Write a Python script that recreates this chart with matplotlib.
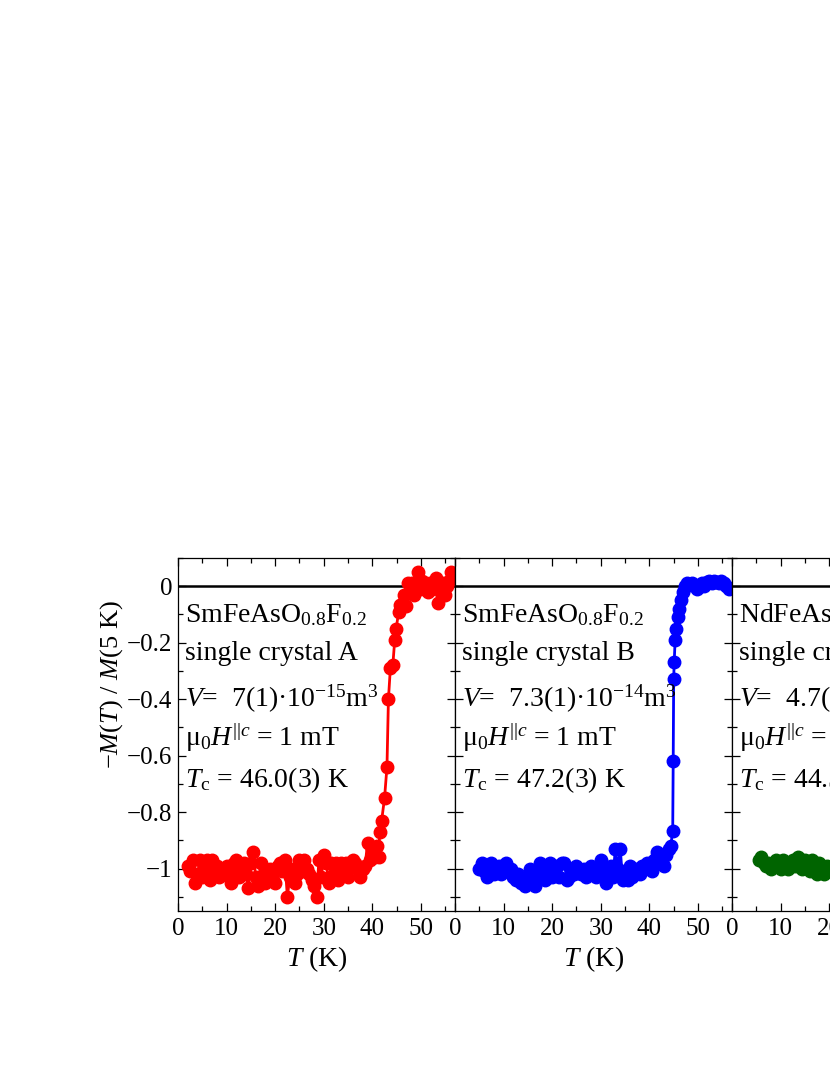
import matplotlib
matplotlib.use("Agg")
import matplotlib.pyplot as plt
from matplotlib.ticker import MultipleLocator, FixedLocator, FixedFormatter

plt.rcParams['font.family'] = ['Liberation Serif', 'DejaVu Serif']
plt.rcParams['mathtext.fontset'] = 'custom'
plt.rcParams['mathtext.rm'] = 'Liberation Serif'
plt.rcParams['mathtext.it'] = 'Liberation Serif:italic'
plt.rcParams['axes.unicode_minus'] = True

# --- data -------------------------------------------------------------
# crystal A (red)
T_a = [2.0, 2.5, 3.0, 3.5, 4.0, 4.5, 5.0, 5.5, 6.0, 6.5, 7.0, 7.5, 8.0, 8.5,
       9.0, 9.5, 10.0, 10.5, 11.0, 11.5, 12.0, 12.5, 13.0, 13.5, 14.0, 14.5,
       15.0, 15.5, 16.0, 16.5, 17.0, 17.5, 18.0, 18.5, 19.0, 19.5, 20.0, 20.5,
       21.0, 21.5, 22.0, 22.5, 23.0, 23.5, 24.0, 24.5, 25.0, 25.5, 26.0, 26.5,
       27.0, 27.5, 28.0, 28.5, 29.0, 29.5, 30.0, 30.5, 31.0, 31.5, 32.0, 32.5,
       33.0, 33.5, 34.0, 34.5, 35.0, 35.5, 36.0, 36.5, 37.0, 37.5, 38.0, 38.5,
       39.0, 39.5, 40.0, 40.5, 41.0, 41.3, 41.5, 41.9, 42.5, 43.0, 43.3, 43.7,
       44.2, 44.6, 44.9, 45.4, 45.7, 46.2, 46.6, 47.0, 47.4, 47.8, 48.2, 48.6,
       49.0, 49.4, 49.8, 50.2, 50.6, 51.0, 51.4, 51.8, 52.2, 52.6, 53.0, 53.4,
       53.8, 54.2, 54.6, 55.0, 55.4, 55.8, 56.2]
M_a = [-0.99, -1.01, -0.97, -1.05, -1.02, -0.97, -1.03, -0.99, -0.97, -1.04,
       -0.97, -1.01, -0.99, -1.03, -1.00, -1.02, -0.99, -1.01, -1.05, -0.98,
       -0.97, -1.03, -1.00, -0.98, -1.02, -1.07, -0.98, -0.94, -1.03, -1.06,
       -0.98, -1.03, -1.05, -1.02, -1.00, -1.04, -1.05, -0.99, -0.98, -1.01,
       -0.97, -1.10, -1.03, -1.00, -1.05, -1.02, -0.97, -1.01, -0.97, -1.00,
       -1.02, -1.04, -1.06, -1.10, -0.97, -1.03, -0.95, -0.98, -1.05, -0.98,
       -1.03, -0.98, -1.04, -0.98, -1.01, -0.98, -1.03, -0.99, -0.97, -0.98,
       -1.00, -1.03, -1.00, -0.99, -0.91, -0.97, -0.93, -0.96, -0.92, -0.96,
       -0.87, -0.83, -0.75, -0.64, -0.40, -0.29, -0.28, -0.19, -0.15, -0.09,
       -0.067, -0.06, -0.03, -0.07, 0.01, -0.02, 0.01, -0.03, 0.0, 0.05,
       -0.01, 0.02, -0.01, 0.01, -0.02, 0.01, -0.01, 0.0, 0.03, -0.06,
       0.0, -0.02, 0.01, -0.03, 0.0, 0.02, 0.05]

# crystal B (blue)
T_b = [5.0, 5.5, 6.0, 6.5, 7.0, 7.5, 8.0, 8.5, 9.0, 9.5, 10.0, 10.5, 11.0,
       11.5, 12.0, 12.5, 13.0, 13.5, 14.0, 14.5, 15.0, 15.5, 16.0, 16.5, 17.0,
       17.5, 18.0, 18.5, 19.0, 19.5, 20.0, 20.5, 21.0, 21.5, 22.0, 22.5, 23.0,
       23.5, 24.0, 24.5, 25.0, 25.5, 26.0, 26.5, 27.0, 27.5, 28.0, 28.5, 29.0,
       29.5, 30.0, 30.5, 31.0, 31.5, 32.0, 32.5, 33.0, 33.5, 34.0, 34.5, 35.0,
       35.5, 36.0, 36.5, 37.0, 37.5, 38.0, 38.5, 39.0, 39.5, 40.0, 40.5, 41.0,
       41.5, 42.0, 42.5, 43.0, 43.5, 44.0, 44.4, 44.8, 44.9, 45.0, 45.1, 45.3,
       45.5, 45.8, 46.1, 46.5, 46.9, 47.3, 47.8, 48.3, 48.8, 49.3, 49.8, 50.3,
       50.8, 51.3, 51.8, 52.3, 52.8, 53.3, 53.8, 54.3, 54.8, 55.3, 55.8, 56.3]
M_b = [-1.00, -0.98, -1.01, -1.03, -0.99, -0.98, -1.02, -1.00, -0.99, -1.02,
       -1.00, -0.98, -1.01, -1.00, -1.03, -1.04, -1.02, -1.05, -1.04, -1.06,
       -1.03, -1.00, -1.05, -1.06, -1.01, -0.98, -1.03, -1.04, -1.00, -0.98,
       -1.03, -1.01, -0.99, -1.03, -0.98, -0.98, -1.04, -1.03, -1.01, -1.02,
       -0.99, -1.01, -1.02, -1.00, -1.03, -1.01, -0.99, -1.02, -1.03, -1.00,
       -0.97, -1.01, -1.05, -1.02, -0.99, -1.03, -0.93, -1.00, -0.93, -1.04,
       -1.01, -1.04, -0.99, -1.03, -1.01, -1.00, -1.02, -0.99, -1.00, -0.98,
       -0.99, -1.01, -0.97, -0.94, -0.98, -0.96, -0.99, -0.95, -0.93, -0.92,
       -0.865, -0.62, -0.33, -0.27, -0.19, -0.15, -0.11, -0.08, -0.05, -0.02,
       0.0, 0.01, 0.005, 0.01, 0.0, -0.01, 0.005, 0.01, 0.0, 0.015,
       0.02, 0.01, 0.02, 0.015, 0.01, 0.02, 0.01, 0.0, -0.01]

# Nd crystal (green)
T_c = [5.5, 6.0, 6.5, 7.0, 7.5, 8.0, 8.5, 9.0, 9.5, 10.0, 10.5, 11.0, 11.5,
       12.0, 12.5, 13.0, 13.5, 14.0, 14.5, 15.0, 15.5, 16.0, 16.5, 17.0, 17.5,
       18.0, 18.5, 19.0, 19.5, 20.0, 21.0, 22.0, 23.0, 24.0, 25.0, 26.0, 27.0,
       28.0, 29.0, 30.0, 31.0, 32.0, 33.0, 34.0, 35.0, 36.0, 37.0, 38.0, 39.0,
       40.0, 41.0, 42.0, 42.8, 43.4, 43.8, 44.2, 44.6, 45.0, 45.6, 46.4, 47.5,
       49.0, 50.5, 52.0, 53.5, 55.0]
M_c = [-0.97, -0.96, -0.98, -0.99, -0.98, -1.00, -0.99, -0.97, -0.98, -1.00,
       -0.97, -0.99, -1.00, -0.98, -0.97, -0.99, -0.96, -0.98, -1.00, -0.97,
       -0.99, -1.01, -0.97, -0.99, -1.02, -0.98, -1.00, -1.02, -0.99, -1.01,
       -0.99, -1.00, -0.98, -1.01, -0.99, -1.00, -0.98, -1.01, -0.99, -0.98,
       -1.00, -0.99, -0.97, -0.99, -0.98, -0.97, -0.98, -0.96, -0.95, -0.94,
       -0.92, -0.88, -0.80, -0.62, -0.40, -0.22, -0.12, -0.06, -0.03, -0.01,
       0.0, 0.01, 0.0, 0.01, 0.0, 0.01]

labels_a = [r"SmFeAsO$_{0.8}$F$_{0.2}$", "single crystal A",
            r"$V$=  7(1)·10$^{-15}$m$^{3}$", r"μ$_{0}$$H^{||c}$ = 1 mT",
            r"$T_{\mathrm{c}}$ = 46.0(3) K"]
labels_b = [r"SmFeAsO$_{0.8}$F$_{0.2}$", "single crystal B",
            r"$V$=  7.3(1)·10$^{-14}$m$^{3}$", r"μ$_{0}$$H^{||c}$ = 1 mT",
            r"$T_{\mathrm{c}}$ = 47.2(3) K"]
labels_c = [r"NdFeAsO$_{0.82}$F$_{0.18}$", "single crystal C",
            r"$V$=  4.7(1)·10$^{-14}$m$^{3}$", r"μ$_{0}$$H^{||c}$ = 1 mT",
            r"$T_{\mathrm{c}}$ = 44.5(3) K"]

ytick_vals = [0, -0.2, -0.4, -0.6, -0.8, -1]
ytick_labels = ["0", "−0.2", "−0.4", "−0.6", "−0.8", "−1"]
xtick_vals = [0, 10, 20, 30, 40, 50]
xtick_labels = ["0", "10", "20", "30", "40", "50"]

panels = [(T_a, M_a, "#ff0000", labels_a),
          (T_b, M_b, "#0000ff", labels_b),
          (T_c, M_c, "#006400", labels_c)]

# --- figure -----------------------------------------------------------
fig = plt.figure(figsize=(8.3, 10.75), dpi=100)

left0 = 178 / 830
width = 277 / 830
bottom = 1 - 911 / 1075
height = 353 / 1075
baselines = [0.8195, 0.711, 0.579, 0.467, 0.352]

for i, (T, M, col, labs) in enumerate(panels):
    ax = fig.add_axes([left0 + i * width, bottom, width, height])
    ax.axhline(0, color='k', lw=1.8, zorder=1)
    ax.plot(T, M, '-o', color=col, lw=2.0, ms=9, clip_on=True, zorder=2)
    ax.set_xlim(0, 57)
    ax.set_ylim(-1.15, 0.1)

    ax.xaxis.set_major_locator(FixedLocator(xtick_vals))
    ax.xaxis.set_major_formatter(FixedFormatter(xtick_labels))
    ax.xaxis.set_minor_locator(MultipleLocator(5))
    ax.yaxis.set_major_locator(FixedLocator(ytick_vals))
    ax.yaxis.set_minor_locator(MultipleLocator(0.1))
    if i == 0:
        ax.yaxis.set_major_formatter(FixedFormatter(ytick_labels))
    else:
        ax.set_yticklabels([])

    ax.tick_params(which='both', direction='in', top=True, right=True,
                   labelsize=18, width=0.9, pad=5)
    ax.tick_params(axis='y', pad=4)
    ax.tick_params(which='major', length=6)
    ax.tick_params(which='minor', length=3.5)
    for sp in ax.spines.values():
        sp.set_linewidth(0.9)

    ax.set_xlabel(r"$T$ (K)", fontsize=20, labelpad=3)

    for lab, yb in zip(labs, baselines):
        ax.text(0.025, yb, lab, transform=ax.transAxes, fontsize=20,
                ha='left', va='baseline')

fig.text(112 / 830, 1 - 685 / 1075, r"−$M$($T$) / $M$(5 K)", rotation=90,
         fontsize=19, ha='center', va='center')

fig.savefig("out.png", dpi=100)
